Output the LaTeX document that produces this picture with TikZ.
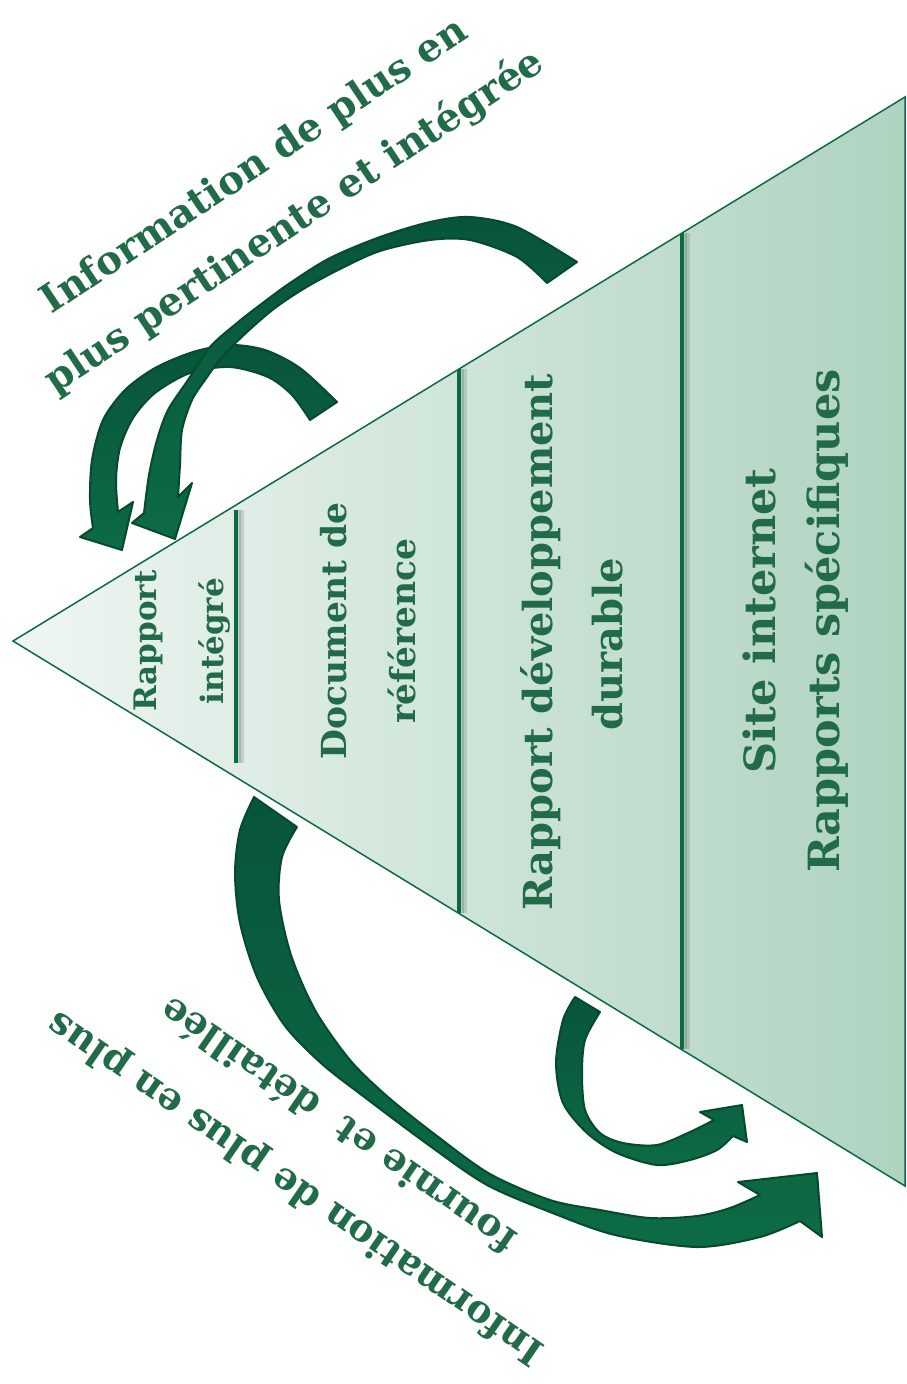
\documentclass[tikz,border=0pt]{standalone}
\usepackage{fontspec}
\setmainfont{DejaVu Serif}
\definecolor{txtgreen}{HTML}{216B48}
\definecolor{edgegreen}{HTML}{0B6B45}
\definecolor{divgreen}{HTML}{0A6A42}
\definecolor{triL}{HTML}{EFF6F2}
\definecolor{triR}{HTML}{AFD3C0}
\definecolor{arrDark}{HTML}{08553A}
\definecolor{arrLight}{HTML}{0C6B45}
\definecolor{arrEdge}{HTML}{064A2D}
\tikzset{
  lbl/.style={text=txtgreen, inner sep=0pt, anchor=center},
  fsA/.style={font=\bfseries\fontsize{31}{34}\selectfont},
  fsB/.style={font=\bfseries\fontsize{34.5}{38}\selectfont},
  fsC/.style={font=\bfseries\fontsize{40}{44}\selectfont},
  fsD/.style={font=\bfseries\fontsize{43}{46}\selectfont},
  fsTop/.style={font=\bfseries\fontsize{39}{42}\selectfont},
  fsBot/.style={font=\bfseries\fontsize{38}{42}\selectfont},
  divider/.style={divgreen, line width=4pt},
  divshadow/.style={black, line width=5pt, opacity=0.12},
  blockarrow/.style={draw=arrEdge, line width=2pt, line join=round, top color=arrDark, bottom color=arrLight},
}
\begin{document}
\begin{tikzpicture}[x=1pt,y=-1pt]
\useasboundingbox (0,0) rectangle (906,1384);
% triangle
\coordinate (apex) at (13,641);
\coordinate (tr) at (905,97);
\coordinate (br) at (905,1186);
\shade[left color=triL, right color=triR] (apex) -- (tr) -- (br) -- cycle;
% dividers
\coordinate (d1a) at (236,510); \coordinate (d1b) at (236,763);
\coordinate (d2a) at (459,369); \coordinate (d2b) at (459,913);
\coordinate (d3a) at (682,233); \coordinate (d3b) at (682,1049);
\foreach \a/\b in {d1a/d1b,d2a/d2b,d3a/d3b}{
  \draw[divshadow] ([xshift=5pt]\a) -- ([xshift=5pt]\b);
  \draw[divshadow,line width=3pt] ([xshift=3.5pt]\a) -- ([xshift=3.5pt]\b);
  \draw[divider] (\a) -- (\b);
}
\draw[edgegreen, line width=1.5pt, line join=miter] (apex) -- (tr) -- (br) -- cycle;

% labels inside
\node[lbl,fsA,rotate=90] (ri1) at (148,641) {Rapport};
\node[lbl,fsA,rotate=90] (ri2) at (215,641) {intégré};
\node[lbl,fsB,rotate=90] (dr1) at (334,631) {Document de};
\node[lbl,fsB,rotate=90] (dr2) at (402,631) {référence};
\node[lbl,fsC,rotate=90] (rd1) at (541,642) {Rapport développement};
\node[lbl,fsC,rotate=90] (rd2) at (608,644) {durable};
\node[lbl,fsD,rotate=90] (si1) at (759,621) {Site internet};
\node[lbl,fsD,rotate=90] (si2) at (827,621) {Rapports spécifiques};

% outside labels
\node[lbl,fsTop,rotate=33.6] (top1) at (255,167) {Information de plus en};
\node[lbl,fsTop,rotate=33.6] (top2) at (295,222) {plus pertinente et intégrée};
\node[lbl,fsBot,rotate=145.5] (bot1) at (296,1187) {Information de plus en plus};
\node[lbl,fsBot,rotate=145.5] (bot2) at (337,1127) {fournie et \ détaillée};

% top arrows
\filldraw[blockarrow] plot[smooth] coordinates {(337,402) (300,368) (265,350) (230,345) (193,352) (155,368) (125,390) (103,420) (92,460) (90,500) (93,528)}
  -- (80,537) -- (122,550) -- (133,502) -- (118,512)
  -- plot[smooth] coordinates {(118,512) (116,480) (120,448) (133,418) (155,393) (190,373) (230,367) (268,377) (292,395) (310,420)} -- cycle;
\filldraw[blockarrow] plot[smooth] coordinates {(577,262) (517,227) (470,217) (430,222) (380,237) (330,258) (290,283) (260,305) (237,323) (210,347) (188,380) (168,410) (157,440) (149,475) (144,513)}
  -- (132,523) -- (175,539) -- (192,483) -- (178,497)
  -- plot[smooth] coordinates {(178,497) (180,465) (182,430) (192,400) (205,380) (222,357) (247,332) (275,308) (305,288) (340,269) (380,251) (430,240) (470,240) (517,257) (547,283)} -- cycle;

% bottom arrows
\filldraw[blockarrow] plot[smooth] coordinates {(254,797) (240,830) (235,873) (240,923) (257,977) (285,1026) (322,1064) (363,1096) (430,1146) (487,1185) (550,1212) (615,1235) (697,1247) (760,1237) (800,1221)}
  -- (822,1237) -- (817,1173) -- (738,1182) -- (760,1195)
  -- plot[smooth] coordinates {(760,1195) (730,1208) (697,1216) (650,1218) (600,1210) (550,1200) (490,1174) (437,1136) (388,1097) (350,1060) (315,1010) (291,955) (279,900) (282,857) (297,827)} -- cycle;
\filldraw[blockarrow] plot[smooth] coordinates {(575,997) (563,1020) (556,1063) (563,1103) (587,1133) (617,1153) (657,1165) (690,1160) (717,1150) (733,1136)}
  -- (747,1142) -- (742,1105) -- (700,1112) -- (714,1120)
  -- plot[smooth] coordinates {(714,1120) (690,1132) (657,1145) (623,1143) (600,1133) (585,1110) (582,1073) (585,1040) (600,1012)} -- cycle;
\end{tikzpicture}
\end{document}
